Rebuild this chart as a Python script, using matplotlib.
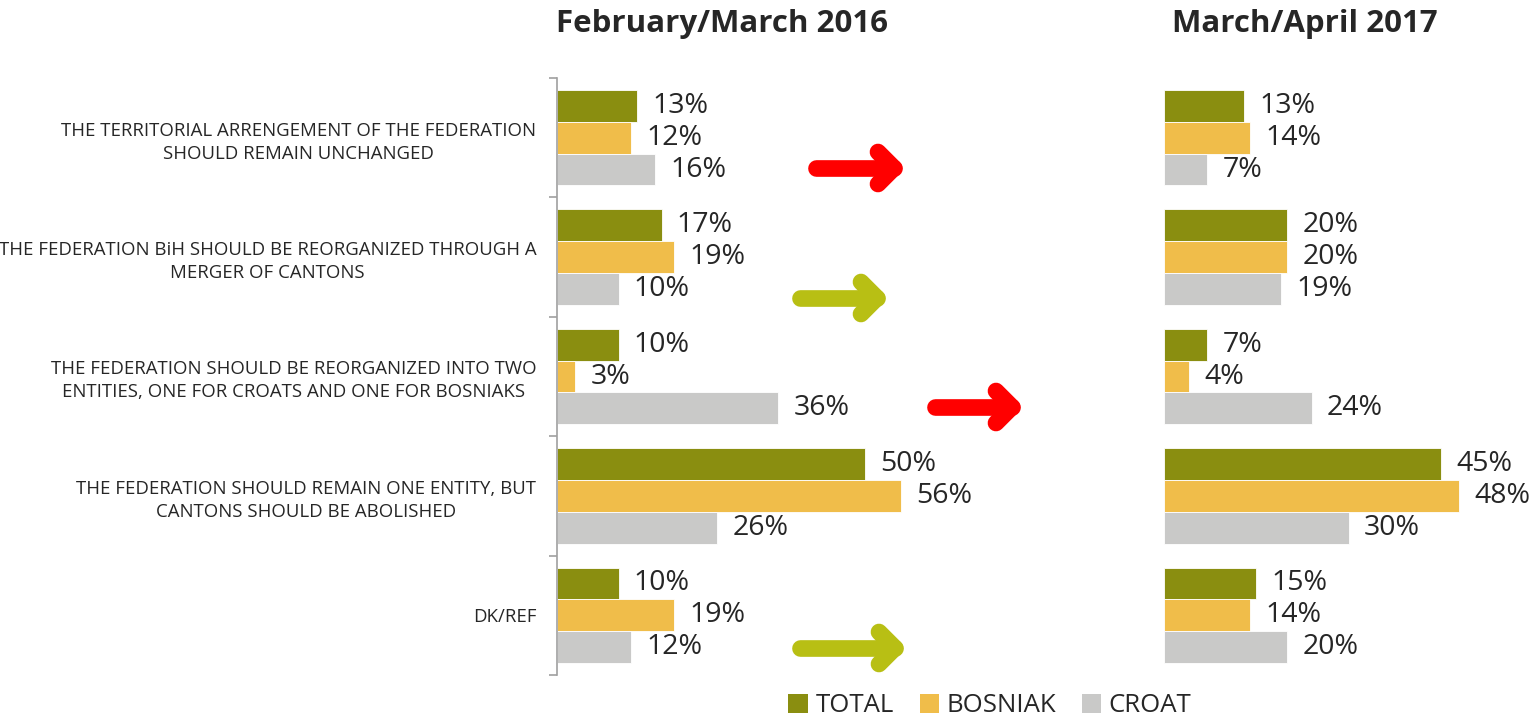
import matplotlib
matplotlib.use("Agg")
import matplotlib.pyplot as plt
from matplotlib.lines import Line2D
from matplotlib.patches import Patch
import numpy as np

plt.rcParams['font.family'] = ['Open Sans', 'DejaVu Sans']

W, H = 1532, 717

categories = [
    "THE TERRITORIAL ARRENGEMENT OF THE FEDERATION\nSHOULD REMAIN UNCHANGED",
    "THE FEDERATION BiH SHOULD BE REORGANIZED THROUGH A\nMERGER OF CANTONS",
    "THE FEDERATION SHOULD BE REORGANIZED INTO TWO\nENTITIES, ONE FOR CROATS AND ONE FOR BOSNIAKS",
    "THE FEDERATION SHOULD REMAIN ONE ENTITY, BUT\nCANTONS SHOULD BE ABOLISHED",
    "DK/REF",
]
series = ["TOTAL", "BOSNIAK", "CROAT"]
colors = ["#8A8E10", "#F0BD4A", "#C9C9C8"]

total_2016 = [13, 17, 10, 50, 10]
bosniak_2016 = [12, 19, 3, 56, 19]
croat_2016 = [16, 10, 36, 26, 12]

total_2017 = [13, 20, 7, 45, 15]
bosniak_2017 = [14, 20, 4, 48, 14]
croat_2017 = [7, 19, 24, 30, 20]

titles = ["February/March 2016", "March/April 2017"]

# arrows between the panels: (left px, right px, y px, colour)
arrows = [
    (808, 902, 168, "#FF0000"),
    (792, 885, 298, "#B8BF14"),
    (927, 1020, 407, "#FF0000"),
    (792, 903, 648, "#B8BF14"),
]

fig = plt.figure(figsize=(W / 100, H / 100), dpi=100)
y0 = 1 - 675 / H
y1 = 1 - 78 / H
ax1 = fig.add_axes([557 / W, y0, 369 / W, y1 - y0])
ax2 = fig.add_axes([1164 / W, y0, 369 / W, y1 - y0])

bar_h = 0.8 / 3
offsets = [0.1 + bar_h * (k + 0.5) for k in range(3)]
idx = np.arange(len(categories))


def draw_panel(ax, data):
    for k, vals in enumerate(data):
        ys = idx + offsets[k]
        ax.barh(ys, vals, height=bar_h, color=colors[k], edgecolor="white", linewidth=0.6)
        for y, v in zip(ys, vals):
            ax.annotate(f"{v}%", (v, y), xytext=(11, 0), textcoords="offset points",
                        va="center", ha="left", fontsize=20.5, color="#262626")
    ax.set_xlim(0, 60)
    ax.set_ylim(len(categories), 0)
    ax.set_xticks([])
    for s in ["top", "right", "bottom"]:
        ax.spines[s].set_visible(False)


draw_panel(ax1, [total_2016, bosniak_2016, croat_2016])
draw_panel(ax2, [total_2017, bosniak_2017, croat_2017])

ax1.spines["left"].set_color("#A0A0A0")
ax1.spines["left"].set_linewidth(1.2)
ax1.set_yticks(np.arange(len(categories) + 1))
ax1.set_yticklabels([])
ax1.tick_params(axis="y", which="major", length=6, color="#A0A0A0", width=1.2)
ax1.set_yticks(idx + 0.5, minor=True)
ax1.set_yticklabels(categories, minor=True, fontsize=13.4, color="#262626")
ax1.tick_params(axis="y", which="minor", length=0, pad=15)
for lbl in ax1.get_yticklabels(minor=True):
    lbl.set_multialignment("center")
    lbl.set_linespacing(1.35)

ax2.spines["left"].set_visible(False)
ax2.set_yticks([])

fig.text(722 / W, 1 - 24 / H, titles[0], ha="center", va="center", fontsize=22.5, fontweight="bold", color="#262626")
fig.text(1305 / W, 1 - 24 / H, titles[1], ha="center", va="center", fontsize=22.5, fontweight="bold", color="#262626")

# arrows
lw = 12
inset = 8
for xl, xr, yc, c in arrows:
    xa, xb = xl + inset, xr - inset
    arm = 16
    pts = [
        ([xa, xb], [yc, yc]),
        ([xb - arm, xb, xb - arm], [yc - arm, yc, yc + arm]),
    ]
    for xs, ys in pts:
        fig.add_artist(Line2D(np.array(xs) / W, 1 - np.array(ys) / H, transform=fig.transFigure,
                              color=c, linewidth=lw, solid_capstyle="round", solid_joinstyle="round"))

handles = [Patch(facecolor=c, edgecolor="none") for c in colors]
fig.legend(handles, series, loc="center", bbox_to_anchor=(990 / W, 1 - 706 / H), ncol=3,
           frameon=False, fontsize=18.5, handlelength=0.75, handleheight=0.75,
           handletextpad=0.3, columnspacing=1.0, labelcolor="#262626")

fig.savefig("out.png", dpi=100)
